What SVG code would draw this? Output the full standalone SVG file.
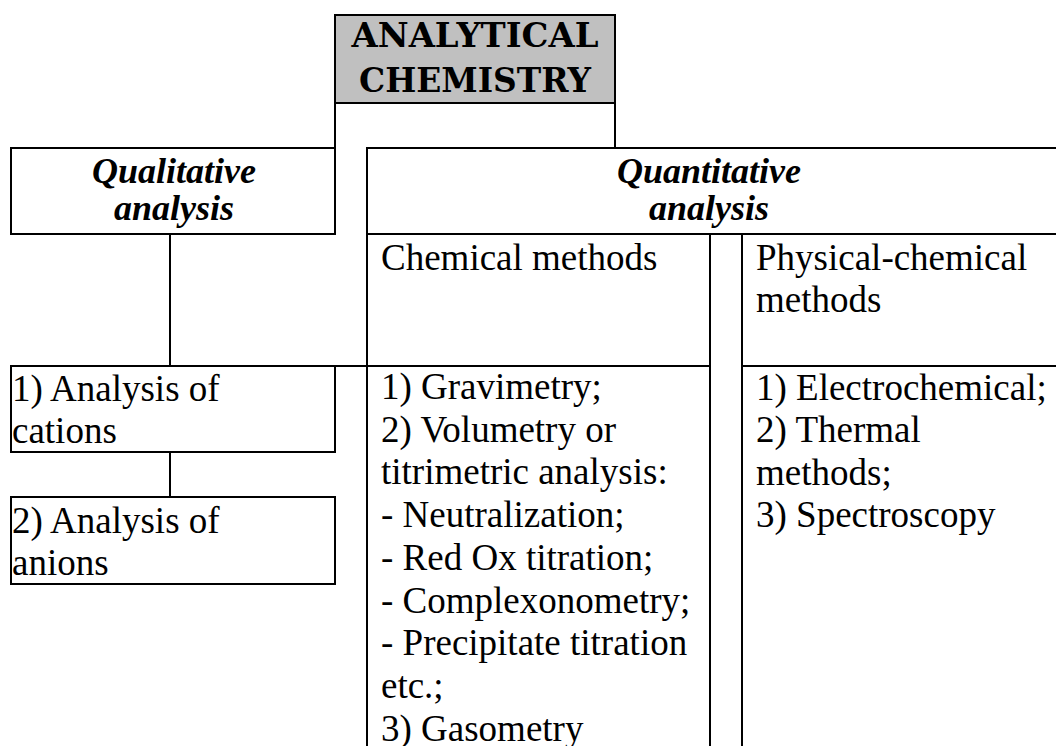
<svg xmlns="http://www.w3.org/2000/svg" width="1056" height="746" viewBox="0 0 1056 746">
<style>
  .ln { stroke: #000; stroke-width: 2; fill: none; }
  .box { stroke: #000; stroke-width: 2; fill: #fff; }
  .gray { stroke: #000; stroke-width: 2; fill: #c0c0c0; }
</style>
<rect width="1056" height="746" fill="#fff"/>
<g id="connectors">
  <line class="ln" x1="335" y1="103" x2="335" y2="148"/>
  <line class="ln" x1="615" y1="103" x2="615" y2="148"/>
  <line class="ln" x1="170" y1="234" x2="170" y2="366"/>
  <line class="ln" x1="335" y1="366" x2="367" y2="366"/>
  <line class="ln" x1="170" y1="452" x2="170" y2="497"/>
</g>
<g id="analytical-chemistry" font-family="DejaVu Serif" font-weight="bold" font-size="33" text-anchor="middle" fill="#000">
  <rect class="gray" x="335" y="15" width="280" height="88"/>
  <text x="475" y="47" textLength="247" lengthAdjust="spacingAndGlyphs">ANALYTICAL</text>
  <text x="475" y="92" textLength="232" lengthAdjust="spacingAndGlyphs">CHEMISTRY</text>
</g>
<g id="qualitative" font-family="Liberation Serif" font-weight="bold" font-style="italic" font-size="36" text-anchor="middle" fill="#000">
  <rect class="box" x="11" y="148" width="324" height="86"/>
  <text x="174" y="183">Qualitative</text>
  <text x="174" y="220">analysis</text>
</g>
<g id="quantitative" font-family="Liberation Serif" font-weight="bold" font-style="italic" font-size="36" text-anchor="middle" fill="#000">
  <path class="ln" d="M1057 148 H367 V746 M367 234 H1057"/>
  <text x="709" y="183">Quantitative</text>
  <text x="709" y="220">analysis</text>
</g>
<g id="chemical-methods" font-family="Liberation Serif" font-size="37" fill="#000">
  <path class="ln" d="M367 366 H710 M710 234 V746"/>
  <text x="381" y="270">Chemical methods</text>
</g>
<g id="physical-chemical-methods" font-family="Liberation Serif" font-size="37" fill="#000">
  <path class="ln" d="M742 234 V746 M742 366 H1057"/>
  <text x="756" y="270">Physical-chemical</text>
  <text x="756" y="312">methods</text>
</g>
<g id="cations" font-family="Liberation Serif" font-size="37" fill="#000">
  <rect class="box" x="11" y="366" width="324" height="86"/>
  <text x="12" y="401">1) Analysis of</text>
  <text x="12" y="443">cations</text>
</g>
<g id="anions" font-family="Liberation Serif" font-size="37" fill="#000">
  <rect class="box" x="11" y="497" width="324" height="87"/>
  <text x="12" y="533">2) Analysis of</text>
  <text x="12" y="575">anions</text>
</g>
<g id="chemical-list" font-family="Liberation Serif" font-size="37" fill="#000">
  <text x="381" y="399">1) Gravimetry;</text>
  <text x="381" y="441.7">2) Volumetry or</text>
  <text x="381" y="484.4">titrimetric analysis:</text>
  <text x="381" y="527.1">- Neutralization;</text>
  <text x="381" y="569.8">- Red Ox titration;</text>
  <text x="381" y="612.5">- Complexonometry;</text>
  <text x="381" y="655.2">- Precipitate titration</text>
  <text x="381" y="697.9">etc.;</text>
  <text x="381" y="740.6">3) Gasometry</text>
</g>
<g id="physical-list" font-family="Liberation Serif" font-size="37" fill="#000">
  <text x="756" y="400">1) Electrochemical;</text>
  <text x="756" y="442">2) Thermal</text>
  <text x="756" y="485">methods;</text>
  <text x="756" y="527">3) Spectroscopy</text>
</g>
</svg>
